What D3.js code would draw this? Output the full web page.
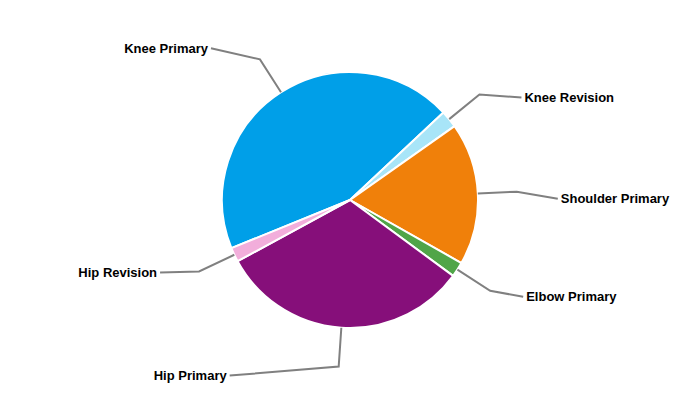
<!DOCTYPE html>
<html>
<head>
<meta charset="utf-8">
<script src="https://cdn.jsdelivr.net/npm/d3@7"></script>
<style>
  html, body { margin: 0; padding: 0; background: #fff; }
  svg { display: block; }
</style>
</head>
<body>
<svg id="chart" width="700" height="400"></svg>
<script>
const categories = ["Knee Primary", "Knee Revision", "Shoulder Primary", "Elbow Primary", "Hip Primary", "Hip Revision"];
const values = [44.2, 2.2, 18.0, 1.9, 32.0, 1.8];
const colors = ["#009fe8", "#a8e5f8", "#f0800a", "#50a548", "#860f7a", "#f2aedb"];
// label end offsets relative to the elbow point (layout only)
const labelOffsets = [[-49, -11], [42, 3], [41, 7], [33, 6], [-109, 9], [-39, 1]];

const svg = d3.select("#chart");
const cx = 350, cy = 200, R = 128, elbowR = 167;
const g = svg.append("g").attr("transform", `translate(${cx},${cy})`);

const start = 247.9 * Math.PI / 180;
const pie = d3.pie().sort(null).startAngle(start).endAngle(start + 2 * Math.PI);
const arcs = pie(values);
const arc = d3.arc().innerRadius(0).outerRadius(R);

g.selectAll("path.slice").data(arcs).enter().append("path")
  .attr("class", "slice")
  .attr("d", arc)
  .attr("fill", (d, i) => colors[i])
  .attr("stroke", "#fff")
  .attr("stroke-width", 2)
  .attr("stroke-linejoin", "round");

const pt = (a, r) => [Math.sin(a) * r, -Math.cos(a) * r];

arcs.forEach((d, i) => {
  const mid = (d.startAngle + d.endAngle) / 2;
  const p0 = pt(mid, R);
  const p1 = pt(mid, elbowR);
  const p2 = [p1[0] + labelOffsets[i][0], p1[1] + labelOffsets[i][1]];
  const right = labelOffsets[i][0] > 0;
  g.append("path")
    .attr("d", d3.line()([p0, p1, p2]))
    .attr("fill", "none")
    .attr("stroke", "#808080")
    .attr("stroke-width", 2);
  g.append("text")
    .attr("x", p2[0] + (right ? 3 : -3))
    .attr("y", p2[1])
    .attr("dy", "0.35em")
    .attr("text-anchor", right ? "start" : "end")
    .attr("font-family", "Liberation Sans, Arial, sans-serif")
    .attr("font-weight", "bold")
    .attr("font-size", 13)
    .attr("fill", "#000")
    .text(categories[i]);
});
</script>
</body>
</html>
